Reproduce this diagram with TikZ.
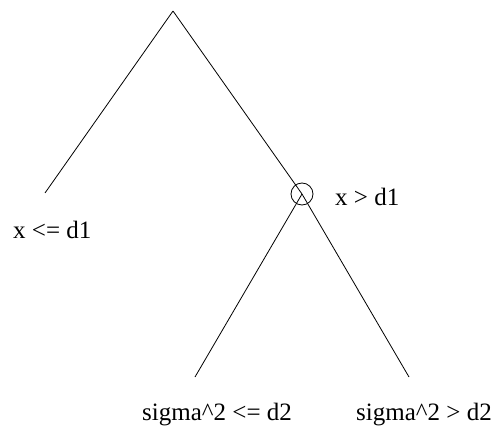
\documentclass[tikz,border=0pt]{standalone}
\usepackage{fontspec}
\setmainfont{Liberation Serif}
\usepackage{tikz}
\usetikzlibrary{positioning}

\begin{document}
\begin{tikzpicture}[
  x=1pt,y=-1pt,
  branch/.style={line width=0.8pt},
  split/.style={draw,circle,line width=0.8pt,minimum size=22pt,inner sep=0pt},
  cond/.style={anchor=base west,inner sep=0pt,font=\fontsize{25}{30}\selectfont}
]
\useasboundingbox (0,0) rectangle (499,436);
\coordinate (root) at (173,11);
\coordinate (leafl) at (45,193);
\node[split] (node2) at (302,194) {};
\coordinate (leaf3) at (195,377);
\coordinate (leaf4) at (409,377);
\draw[branch] (root) -- (leafl);
\draw[branch] (root) -- (node2.center) -- (leaf4);
\draw[branch] (node2.center) -- (leaf3);
\node[cond] (c1) at (13,239) {x <= d1};
\node[cond] (c2) at (335,206) {x > d1};
\node[cond] (c3) at (142,420) {sigma\textasciicircum 2 <= d2};
\node[cond] (c4) at (356,420) {sigma\textasciicircum 2 > d2};
\end{tikzpicture}
\end{document}
